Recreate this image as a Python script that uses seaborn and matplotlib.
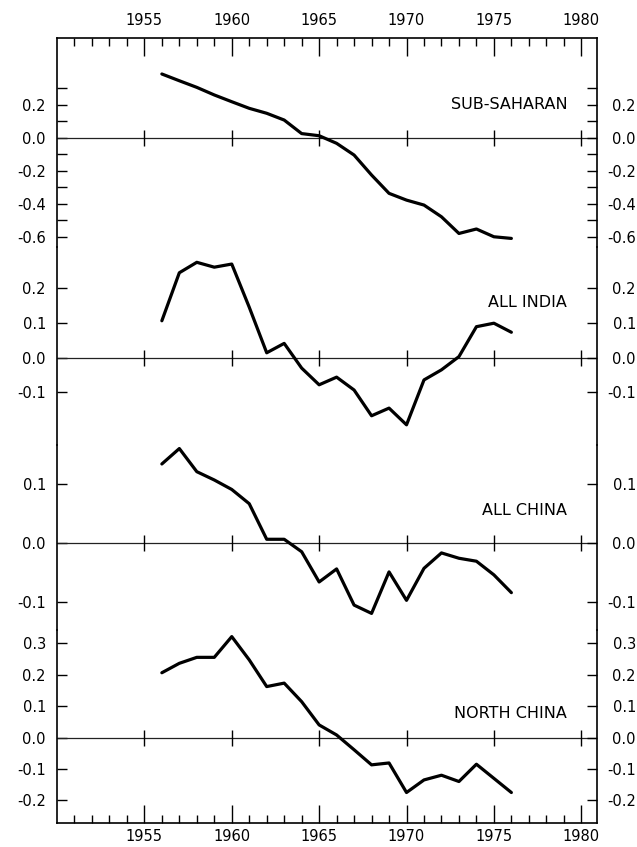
import numpy as np
import matplotlib
matplotlib.use('Agg')
import matplotlib.pyplot as plt
import seaborn as sns

sns.set_style('ticks')
plt.rcParams['font.family'] = ['DejaVu Sans']
plt.rcParams['axes.unicode_minus'] = False
plt.rcParams['text.color'] = 'black'
plt.rcParams['xtick.color'] = 'black'
plt.rcParams['ytick.color'] = 'black'

# Data (anomalies by year)
years = list(range(1956, 1977))
sub_saharan = [0.386, 0.345, 0.305, 0.259, 0.218, 0.178, 0.148, 0.107, 0.025, 0.012, -0.034,
               -0.105, -0.226, -0.337, -0.378, -0.408, -0.479, -0.580, -0.553, -0.600, -0.610]
all_india = [0.106, 0.244, 0.274, 0.260, 0.269, 0.145, 0.014, 0.041, -0.030, -0.078, -0.056,
             -0.093, -0.167, -0.145, -0.193, -0.064, -0.035, 0.003, 0.089, 0.099, 0.073]
all_china = [0.133, 0.159, 0.120, 0.106, 0.090, 0.066, 0.006, 0.006, -0.015, -0.066, -0.044,
             -0.105, -0.119, -0.049, -0.097, -0.043, -0.017, -0.026, -0.031, -0.054, -0.084]
north_china = [0.206, 0.236, 0.255, 0.255, 0.321, 0.247, 0.162, 0.173, 0.114, 0.040, 0.008,
               -0.039, -0.087, -0.081, -0.175, -0.135, -0.120, -0.140, -0.085, -0.130, -0.175]

panel_names = ['SUB-SAHARAN', 'ALL INDIA', 'ALL CHINA', 'NORTH CHINA']
panel_series = [sub_saharan, all_india, all_china, north_china]

# y ticks per panel
major_yticks = [[-0.6, -0.4, -0.2, 0.0, 0.2],
                [-0.1, 0.0, 0.1, 0.2],
                [-0.1, 0.0, 0.1],
                [-0.2, -0.1, 0.0, 0.1, 0.2, 0.3]]
minor_yticks = [[-0.5, -0.3, -0.1, 0.1, 0.3], [], [], []]

x_major = list(range(1955, 1981, 5))
x_minor = list(range(1951, 1981))

# layout (pixels of the 637x847 figure)
W, H = 637, 847
left_px, right_px = 57, 597
edges_px = [38, 247, 445, 630, 823]
ylims = [(-0.662, 0.604), (-0.251, 0.318), (-0.147, 0.165), (-0.272, 0.342)]
label_y = [0.2, 0.158, 0.055, 0.077]

fig = plt.figure(figsize=(W / 100, H / 100), dpi=100)

for i, (name, vals) in enumerate(zip(panel_names, panel_series)):
    top, bot = edges_px[i], edges_px[i + 1]
    ax = fig.add_axes([left_px / W, 1 - bot / H, (right_px - left_px) / W, (bot - top) / H])
    ax.set_facecolor('none')

    sns.lineplot(x=years, y=vals, ax=ax, color='black', lw=2.3)

    ax.axhline(0, color='#222222', lw=0.9, zorder=1)
    ax.plot(x_major, [0] * len(x_major), ls='none', marker='|', ms=12, mew=1.0,
            color='black', clip_on=False)

    ax.set_xlim(1950, 1980.9)
    ax.set_ylim(*ylims[i])
    ax.set_xlabel('')
    ax.set_ylabel('')

    for side in ['left', 'right', 'top', 'bottom']:
        ax.spines[side].set_linewidth(1.2)
        ax.spines[side].set_color('black')
    ax.spines['top'].set_visible(i == 0)
    ax.spines['bottom'].set_visible(i == 3)

    ylabels = ['%.1f' % v for v in major_yticks[i]]
    ax.set_yticks(major_yticks[i], ylabels)
    ax.set_yticks(minor_yticks[i], minor=True)
    ax.tick_params(axis='y', which='both', direction='in', length=7, width=1,
                   left=True, right=False, labelsize=10.5, pad=8)

    # right-hand scale
    ax2 = ax.twinx()
    ax2.set_ylim(*ylims[i])
    ax2.set_yticks(major_yticks[i], ylabels, ha='right')
    ax2.set_yticks(minor_yticks[i], minor=True)
    ax2.tick_params(axis='y', which='both', direction='in', length=7, width=1,
                    right=True, labelsize=10.5, pad=28)
    for side in ['left', 'right', 'top', 'bottom']:
        ax2.spines[side].set_visible(False)

    ax.set_xticks(x_major)
    ax.set_xticks(x_minor, minor=True)
    if i == 0:
        ax.tick_params(axis='x', which='both', direction='in', top=True, bottom=False,
                       labeltop=True, labelbottom=False, width=1, labelsize=10.5, pad=7)
        ax.tick_params(axis='x', which='major', length=13)
        ax.tick_params(axis='x', which='minor', length=6)
    elif i == 3:
        ax.tick_params(axis='x', which='both', direction='in', top=False, bottom=True,
                       labeltop=False, labelbottom=True, width=1, labelsize=10.5, pad=4)
        ax.tick_params(axis='x', which='major', length=13)
        ax.tick_params(axis='x', which='minor', length=6)
    else:
        ax.tick_params(axis='x', which='both', top=False, bottom=False,
                       labeltop=False, labelbottom=False)

    ax.text(1979.2, label_y[i], name, ha='right', va='center', fontsize=11.5,
            color='black')

fig.savefig('out.png', dpi=100)
